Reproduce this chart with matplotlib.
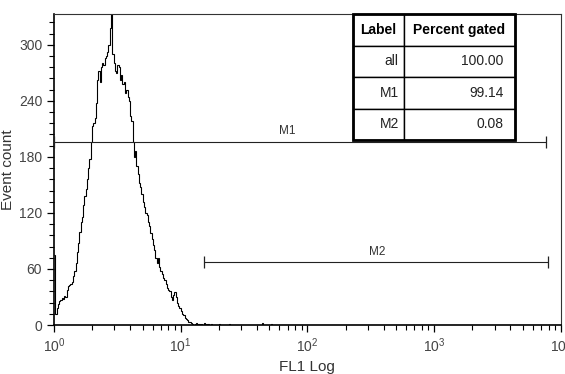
import numpy as np
import matplotlib
matplotlib.use('Agg')
import matplotlib.pyplot as plt
from matplotlib.patches import Rectangle
from matplotlib.ticker import LogLocator, LogFormatterSciNotation, MultipleLocator

plt.rcParams['font.family'] = ['Liberation Sans', 'DejaVu Sans']
plt.rcParams['mathtext.default'] = 'regular'

# histogram counts, log bins of 0.01 decade starting at 10^0
bin_step = 0.01
counts = [75, 12, 18, 22, 26, 27, 29, 28, 31, 30,
          38, 42, 43, 44, 46, 52, 58, 66, 78, 88,
          100, 110, 116, 128, 138, 146, 156, 168, 178, 196,
          213, 216, 222, 238, 262, 272, 260, 276, 281, 278,
          286, 288, 292, 300, 318, 340, 290, 280, 272, 270,
          278, 276, 262, 268, 258, 260, 248, 252, 244, 240,
          224, 218, 196, 180, 186, 170, 162, 152, 148, 140,
          132, 126, 120, 118, 110, 106, 98, 92, 86, 80,
          72, 66, 72, 62, 58, 55, 50, 48, 44, 40,
          38, 36, 30, 27, 32, 35, 30, 24, 20, 18,
          15, 12, 11, 8, 6, 5, 3, 3, 2, 1,
          0, 1, 2, 0, 1, 0, 1, 0, 2, 1,
          0, 1, 0, 0, 1]
# rare events further out: (bin index, count)
tail_events = [(130, 1), (138, 1), (164, 2), (171, 1)]
n_bins = 400

# gates
gate_names = ['M1', 'M2']
gate_lo = [1.0, 15.4]
gate_hi = [7600, 7900]
gate_y = [196, 67]
gate_label_x = [69, 354]

# stats table
table_cols = ['Label', 'Percent gated']
table_labels = ['all', 'M1', 'M2']
table_pct = ['100.00', '99.14', '0.08']

full = np.zeros(n_bins)
full[:len(counts)] = counts
for idx, c in tail_events:
    full[idx] = c
edges = 10 ** (np.arange(n_bins + 1) * bin_step)

fig = plt.figure(figsize=(5.65, 3.74), dpi=100)
ax = fig.add_axes([0.0956, 0.131, 0.897, 0.8316])

ax.stairs(full, edges, color='black', lw=0.8, baseline=None)

ax.set_xscale('log')
ax.set_xlim(1, 1e4)
ax.set_ylim(0, 333)
ax.xaxis.set_major_locator(LogLocator(base=10, numticks=10))
ax.xaxis.set_minor_locator(LogLocator(base=10, subs=np.arange(2, 10), numticks=50))
ax.xaxis.set_major_formatter(LogFormatterSciNotation())
ax.yaxis.set_major_locator(MultipleLocator(60))
ax.yaxis.set_minor_locator(MultipleLocator(12))

ax.tick_params(which='major', direction='out', length=5, width=0.9, colors='black',
               labelcolor='#444444', labelsize=10)
ax.tick_params(which='minor', direction='out', length=3.5, width=0.8, colors='black')
for side in ['left', 'bottom']:
    ax.spines[side].set_linewidth(1.2)
for side in ['top', 'right']:
    ax.spines[side].set_linewidth(0.8)
    ax.spines[side].set_color('#333333')

ax.set_xlabel('FL1 Log', fontsize=11, color='#333333', labelpad=3)
ax.set_ylabel('Event count', fontsize=11, color='#333333', labelpad=3)

# gate markers
tick_h = 6.5
for name, lo, hi, y, lx in zip(gate_names, gate_lo, gate_hi, gate_y, gate_label_x):
    ax.hlines(y, lo, hi, color='#222222', lw=0.8, zorder=3)
    ax.vlines([lo, hi], y - tick_h, y + tick_h, color='#222222', lw=0.9, zorder=3)
    ax.text(lx, y + 5, name, ha='center', va='bottom', fontsize=8.5, color='#333333')

# statistics table
tb = ax.table(cellText=[[l, p] for l, p in zip(table_labels, table_pct)],
              colLabels=table_cols, colWidths=[51 / 162, 111 / 162],
              cellLoc='right', bbox=[0.590, 0.594, 0.319, 0.406])
tb.auto_set_font_size(False)
tb.set_zorder(6)
for (r, c), cell in tb.get_celld().items():
    cell.set_facecolor('white')
    cell.set_edgecolor('black')
    cell.set_linewidth(1.0)
    cell.get_text().set_fontsize(10)
    cell.get_text().set_color('#222222')
    if r == 0:
        cell.get_text().set_fontweight('bold')
        cell.get_text().set_ha('center')
        cell._loc = 'center'
        cell.get_text().set_color('black')
ax.add_patch(Rectangle((0.590, 0.594), 0.319, 0.406, transform=ax.transAxes,
                       fill=False, ec='black', lw=2.0, zorder=7, clip_on=False))

fig.savefig('out.png', dpi=100)
